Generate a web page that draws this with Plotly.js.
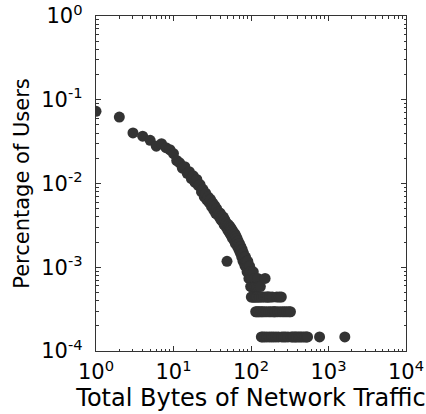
<!DOCTYPE html>
<html>
<head>
<meta charset="utf-8">
<script src="https://cdn.plot.ly/plotly-3.0.1.min.js"></script>
<style>
  html, body { margin: 0; padding: 0; background: #fff; }
  #chart { width: 426px; height: 414px; }
</style>
</head>
<body>
<div id="chart"></div>
<script>
// Total users in the sample; each point is the share of users with a given traffic total.
const totalUsers = 6800;

// Total bytes of network traffic per user (x) and how many users had that total.
const bytes = [
  1, 2, 3, 4, 5, 6, 7, 8, 9, 10,
  11, 12, 13, 14, 15, 16, 17, 18, 19, 20,
  21, 22, 23, 24, 25, 26, 27, 28, 29, 30,
  31, 32, 33, 34, 35, 36, 37, 38, 39, 40,
  41, 42, 43, 44, 45, 46, 47, 48, 49, 50,
  51, 52, 53, 54, 55, 56, 57, 58, 59, 60,
  61, 62, 63, 64, 65, 66, 67, 68, 69, 70,
  71, 72, 73, 74, 75, 76, 77, 78, 79, 80,
  81, 82, 83, 84, 85, 86, 87, 88, 89, 90,
  91, 92, 93, 94, 95, 96, 97, 98, 99, 100,
  101, 102, 103, 104, 105, 106, 107, 108, 110, 111,
  112, 113, 115, 116, 118, 119, 120, 122, 124, 125,
  126, 128, 130, 132, 135, 136, 138, 140, 142, 145,
  148, 150, 152, 155, 158, 160, 163, 166, 170, 172,
  175, 180, 184, 188, 192, 196, 200, 205, 210, 215,
  220, 226, 232, 238, 246, 250, 256, 265, 272, 280,
  290, 300, 310, 323, 330, 345, 360, 375, 390, 410,
  430, 450, 475, 500, 520, 537, 767, 1625
];
const users = [
  495, 422, 273, 250, 223, 190, 203, 182, 172, 155,
  128, 120, 104, 108, 90, 94, 78, 84, 70, 76,
  64, 66, 54, 58, 47, 52, 43, 47, 40, 44,
  36, 40, 33, 37, 30, 34, 29, 31, 27, 30,
  25, 28, 24, 27, 22, 25, 21, 23, 8, 19,
  22, 18, 21, 17, 20, 16, 19, 15, 18, 16,
  14, 17, 13, 16, 14, 15, 12, 14, 13, 11,
  13, 12, 10, 12, 11, 9, 11, 10, 8, 10,
  9, 8, 9, 7, 9, 8, 7, 8, 6, 7,
  8, 6, 7, 5, 6, 7, 5, 6, 4, 5,
  3, 4, 5, 4, 3, 4, 6, 3, 4, 5,
  3, 4, 2, 3, 4, 2, 3, 5, 2, 4,
  3, 2, 3, 4, 2, 1, 3, 2, 1, 3,
  2, 1, 5, 3, 2, 1, 3, 3, 2, 1,
  3, 2, 1, 3, 2, 1, 2, 2, 1, 3,
  2, 1, 3, 2, 3, 1, 2, 1, 2, 1,
  2, 1, 2, 2, 1, 1, 1, 1, 1, 1,
  1, 1, 1, 1, 1, 1, 1, 1
];

// Axis decades and their labels.
const xTickVals = [1, 10, 100, 1000, 10000];
const xTickText = ['10<sup>0</sup>', '10<sup>1</sup>', '10<sup>2</sup>', '10<sup>3</sup>', '10<sup>4</sup>'];
const yTickVals = [0.0001, 0.001, 0.01, 0.1, 1];
const yTickText = ['10<sup>-4</sup>', '10<sup>-3</sup>', '10<sup>-2</sup>', '10<sup>-1</sup>', '10<sup>0</sup>'];

const share = users.map(u => u / totalUsers);

// Minor ticks at 2..9 within each decade.
function minorTicks(decades) {
  const out = [];
  for (let i = 0; i < decades.length - 1; i++) {
    for (let k = 2; k <= 9; k++) out.push(decades[i] * k);
  }
  return out;
}

const font = { family: 'DejaVu Sans, sans-serif', size: 21, color: '#000' };
const xTitleFont = { family: 'DejaVu Sans, sans-serif', size: 24, color: '#000' };

const axisBase = {
  type: 'log',
  showgrid: false,
  zeroline: false,
  showline: true,
  linecolor: '#333',
  linewidth: 1.2,
  mirror: 'allticks',
  ticks: 'inside',
  ticklen: 5,
  tickwidth: 1,
  tickcolor: '#333',
  tickmode: 'array',
  tickfont: font
};

const layout = {
  width: 426,
  height: 414,
  margin: { l: 96, r: 20, t: 16, b: 63 },
  paper_bgcolor: '#fff',
  plot_bgcolor: '#fff',
  showlegend: false,
  font: font,
  xaxis: Object.assign({}, axisBase, {
    range: [0, 4],
    tickvals: xTickVals,
    ticktext: xTickText,
    ticklabelstandoff: 2,
    minor: { tickmode: 'array', tickvals: minorTicks(xTickVals), ticks: 'inside', ticklen: 2.5, tickcolor: '#333', showgrid: false },
    title: { text: 'Total Bytes of Network Traffic', font: xTitleFont, standoff: 4 },
    automargin: false
  }),
  yaxis: Object.assign({}, axisBase, {
    range: [-4, 0],
    tickvals: yTickVals,
    ticktext: yTickText,
    ticklabelstandoff: 8,
    minor: { tickmode: 'array', tickvals: minorTicks(yTickVals), ticks: 'inside', ticklen: 2.5, tickcolor: '#333', showgrid: false },
    title: { text: 'Percentage of Users', font: font, standoff: 5 },
    automargin: false
  })
};

Plotly.newPlot('chart', [{
  type: 'scatter',
  mode: 'markers',
  x: bytes,
  y: share,
  marker: { size: 11, color: '#333333', line: { width: 0 } },
  hoverinfo: 'skip'
}], layout, { staticPlot: true, displayModeBar: false });
</script>
</body>
</html>
